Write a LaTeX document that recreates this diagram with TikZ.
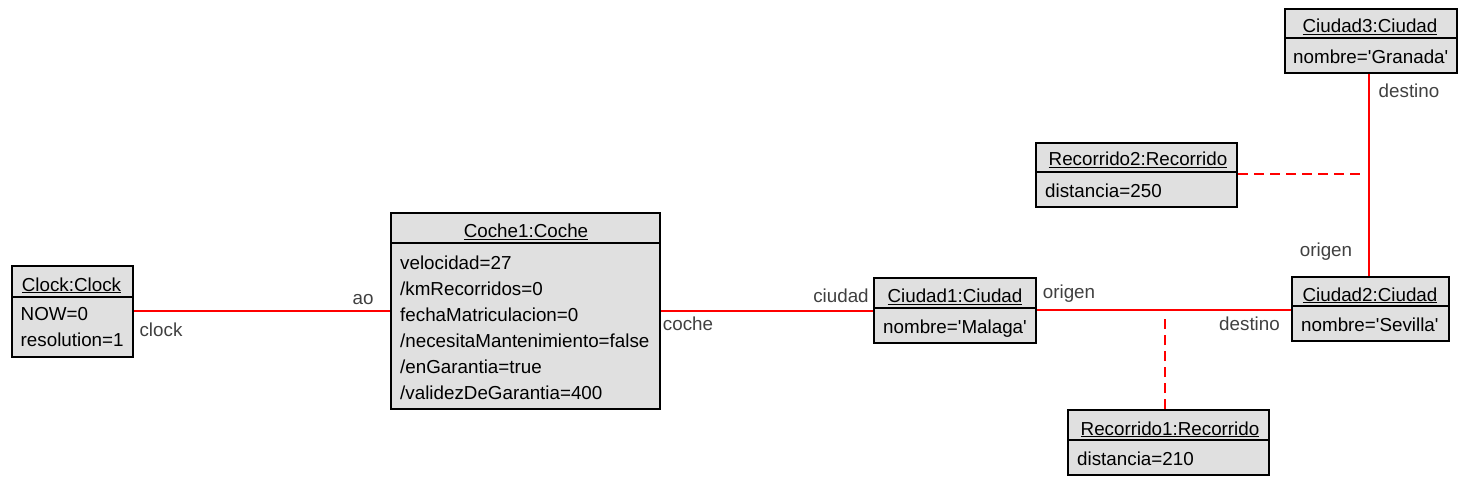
\documentclass[tikz,border=0pt]{standalone}
\usepackage{fontspec}
\setmainfont{Liberation Sans}
\usepackage{xcolor}
\usepackage{tikz}
\usetikzlibrary{positioning}

\definecolor{objfill}{RGB}{224,224,224}
\definecolor{linkred}{RGB}{255,0,0}
\definecolor{rolegray}{RGB}{64,64,64}

\begin{document}
\begin{tikzpicture}[x=1pt,y=-1pt]
        % Styles for the object boxes, their texts and the links
        \tikzstyle{every node}=[font=\fontsize{18.8}{26}\selectfont];
        \tikzstyle{object}=[draw=black, line width=2pt, fill=objfill, inner sep=0pt, anchor=north west];
        \tikzstyle{objtitle}=[inner sep=0pt, anchor=base];
        \tikzstyle{objattr}=[inner sep=0pt, anchor=north west, align=left];
        \tikzstyle{divider}=[draw=black, line width=2pt];
        \tikzstyle{link}=[draw=linkred, line width=2pt];
        \tikzstyle{assoc}=[draw=linkred, line width=2pt, dash pattern=on 10pt off 6pt];
        \tikzstyle{role}=[inner sep=0pt, anchor=base, text=rolegray];

        % Fix the size of the picture
        \useasboundingbox (0,0) rectangle (1464,481);

        % Clock object
        \node[object, minimum width=121pt, minimum height=91pt] (clock) at (11,265) {};
        \draw[divider] (clock.west |- 0,297) -- (clock.east |- 0,297);
        \node[objtitle] (clockT) at (71.5,291) {\underline{Clock:Clock}};
        \node[objattr] (clockA) at (20.5,307.5) {NOW=0\\resolution=1};

        % Coche object
        \node[object, minimum width=269pt, minimum height=196pt] (coche) at (390,212) {};
        \draw[divider] (coche.west |- 0,243) -- (coche.east |- 0,243);
        \node[objtitle] (cocheT) at (526,237.5) {\underline{Coche1:Coche}};
        \node[objattr] (cocheA) at (400,255.5) {velocidad=27\\/kmRecorridos=0\\fechaMatriculacion=0\\/necesitaMantenimiento=false\\/enGarantia=true\\/validezDeGarantia=400};

        % Ciudad objects
        \node[object, minimum width=162pt, minimum height=65pt] (ciudad1) at (873,277) {};
        \draw[divider] (ciudad1.west |- 0,308) -- (ciudad1.east |- 0,308);
        \node[objtitle] (ciudad1T) at (955,302.5) {\underline{Ciudad1:Ciudad}};
        \node[objattr] (ciudad1A) at (883,319.5) {nombre=\textquotesingle Malaga\textquotesingle};

        \node[object, minimum width=157pt, minimum height=64pt] (ciudad2) at (1291,276) {};
        \draw[divider] (ciudad2.west |- 0,306) -- (ciudad2.east |- 0,306);
        \node[objtitle] (ciudad2T) at (1370,301) {\underline{Ciudad2:Ciudad}};
        \node[objattr] (ciudad2A) at (1301,317.5) {nombre=\textquotesingle Sevilla\textquotesingle};

        \node[object, minimum width=172pt, minimum height=64pt] (ciudad3) at (1284,8) {};
        \draw[divider] (ciudad3.west |- 0,38) -- (ciudad3.east |- 0,38);
        \node[objtitle] (ciudad3T) at (1370,33) {\underline{Ciudad3:Ciudad}};
        \node[objattr] (ciudad3A) at (1293,49.8) {nombre=\textquotesingle Granada\textquotesingle};

        % Recorrido objects
        \node[object, minimum width=201pt, minimum height=64pt] (recorrido2) at (1035,142) {};
        \draw[divider] (recorrido2.west |- 0,172) -- (recorrido2.east |- 0,172);
        \node[objtitle] (recorrido2T) at (1138,166) {\underline{Recorrido2:Recorrido}};
        \node[objattr] (recorrido2A) at (1045,183.5) {distancia=250};

        \node[object, minimum width=201pt, minimum height=65pt] (recorrido1) at (1067,409) {};
        \draw[divider] (recorrido1.west |- 0,440) -- (recorrido1.east |- 0,440);
        \node[objtitle] (recorrido1T) at (1170,435) {\underline{Recorrido1:Recorrido}};
        \node[objattr] (recorrido1A) at (1077,451.5) {distancia=210};

        % Links between the objects
        \draw[link] (clock.east |- 0,311) -- (coche.west |- 0,311);
        \draw[link] (coche.east |- 0,311) -- (ciudad1.west |- 0,311);
        \draw[link] (ciudad1.east |- 0,310) -- (ciudad2.west |- 0,310);
        \draw[link] (ciudad3.south -| 1369,0) -- (ciudad2.north -| 1369,0);

        % Association objects attached to the links
        \draw[assoc] (recorrido2.east |- 0,174) -- (1364,174);
        \draw[assoc] (1165,409) -- (1165,316);

        % Role names at the link ends
        \node[role] (roleAo) at (363,304) {ao};
        \node[role] (roleClock) at (161,336.5) {clock};
        \node[role] (roleCoche) at (688,330) {coche};
        \node[role] (roleCiudad) at (841,302) {ciudad};
        \node[role] (roleOrigen1) at (1069,298) {origen};
        \node[role] (roleDestino1) at (1249.5,330) {destino};
        \node[role] (roleDestino2) at (1409,98) {destino};
        \node[role] (roleOrigen2) at (1326,256) {origen};
    \end{tikzpicture}
\end{document}
